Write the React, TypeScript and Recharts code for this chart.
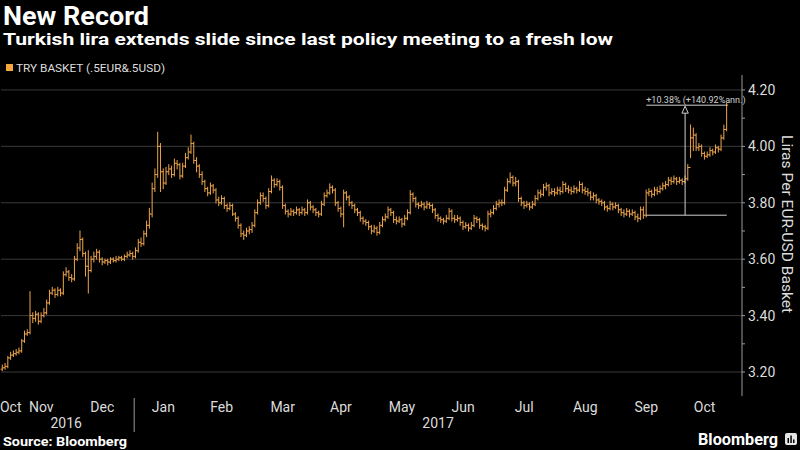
import React from 'react';
import {
  ComposedChart,
  Bar,
  XAxis,
  YAxis,
  CartesianGrid,
  ReferenceLine,
  ReferenceDot,
} from 'recharts';

// [close, high, low] per trading day; open = previous close
type HLC = [number, number, number];

const oct16: HLC[] = [
  [3.215, 3.225, 3.205], [3.22, 3.23, 3.21], [3.25, 3.255, 3.215], [3.26, 3.27, 3.245],
];
const nov16: HLC[] = [
  [3.265, 3.275, 3.255], [3.27, 3.28, 3.26], [3.275, 3.285, 3.265], [3.31, 3.315, 3.27],
  [3.335, 3.345, 3.305], [3.34, 3.35, 3.33], [3.40, 3.485, 3.335], [3.39, 3.41, 3.375],
  [3.405, 3.415, 3.38], [3.38, 3.41, 3.37], [3.40, 3.41, 3.375], [3.41, 3.425, 3.395],
  [3.445, 3.455, 3.405], [3.48, 3.49, 3.44], [3.49, 3.50, 3.475], [3.475, 3.495, 3.465],
  [3.49, 3.50, 3.47], [3.48, 3.495, 3.47], [3.545, 3.555, 3.475], [3.555, 3.57, 3.54],
  [3.535, 3.56, 3.525], [3.53, 3.545, 3.52],
];
const dec16: HLC[] = [
  [3.60, 3.61, 3.525], [3.64, 3.655, 3.595], [3.67, 3.70, 3.63], [3.62, 3.675, 3.61],
  [3.575, 3.625, 3.54], [3.56, 3.63, 3.48], [3.60, 3.61, 3.555], [3.61, 3.625, 3.59],
  [3.625, 3.635, 3.60], [3.60, 3.63, 3.59], [3.59, 3.605, 3.58], [3.595, 3.60, 3.585],
  [3.59, 3.60, 3.58], [3.60, 3.605, 3.585], [3.595, 3.605, 3.59], [3.60, 3.61, 3.59],
  [3.605, 3.61, 3.595], [3.60, 3.61, 3.595], [3.61, 3.615, 3.595], [3.615, 3.625, 3.605],
  [3.62, 3.63, 3.61], [3.61, 3.625, 3.60],
];
const jan17: HLC[] = [
  [3.63, 3.64, 3.605], [3.66, 3.67, 3.625], [3.655, 3.675, 3.645], [3.69, 3.70, 3.65],
  [3.72, 3.735, 3.68], [3.76, 3.78, 3.71], [3.85, 3.87, 3.75], [3.90, 3.92, 3.84],
  [4.00, 4.05, 3.89], [3.91, 4.01, 3.84], [3.87, 3.92, 3.85], [3.91, 3.925, 3.865],
  [3.92, 3.935, 3.90], [3.90, 3.93, 3.89], [3.94, 3.955, 3.895], [3.935, 3.95, 3.92],
  [3.895, 3.94, 3.885], [3.93, 3.94, 3.89], [3.96, 3.975, 3.925], [3.98, 3.995, 3.955],
  [4.01, 4.04, 3.975], [3.95, 4.015, 3.94],
];
const feb17: HLC[] = [
  [3.93, 3.96, 3.91], [3.90, 3.935, 3.89], [3.875, 3.91, 3.865], [3.85, 3.88, 3.84],
  [3.835, 3.855, 3.825], [3.86, 3.87, 3.83], [3.845, 3.865, 3.835], [3.81, 3.85, 3.80],
  [3.80, 3.82, 3.79], [3.815, 3.825, 3.795], [3.79, 3.82, 3.78], [3.78, 3.795, 3.77],
  [3.79, 3.80, 3.775], [3.76, 3.795, 3.755], [3.745, 3.765, 3.735], [3.72, 3.75, 3.71],
  [3.69, 3.725, 3.68], [3.685, 3.70, 3.67], [3.70, 3.71, 3.68], [3.705, 3.715, 3.69],
];
const mar17: HLC[] = [
  [3.72, 3.73, 3.695], [3.765, 3.775, 3.715], [3.80, 3.81, 3.76], [3.825, 3.835, 3.795],
  [3.815, 3.835, 3.805], [3.79, 3.82, 3.78], [3.84, 3.85, 3.785], [3.88, 3.895, 3.835],
  [3.865, 3.885, 3.855], [3.875, 3.885, 3.86], [3.855, 3.88, 3.845], [3.79, 3.86, 3.78],
  [3.77, 3.795, 3.76], [3.76, 3.775, 3.75], [3.77, 3.78, 3.755], [3.765, 3.775, 3.755],
  [3.775, 3.785, 3.76], [3.765, 3.78, 3.755], [3.775, 3.785, 3.76], [3.765, 3.78, 3.755],
  [3.80, 3.81, 3.76], [3.785, 3.805, 3.775], [3.775, 3.79, 3.765],
];
const apr17: HLC[] = [
  [3.765, 3.78, 3.755], [3.76, 3.77, 3.75], [3.795, 3.805, 3.755], [3.825, 3.835, 3.79],
  [3.835, 3.845, 3.82], [3.855, 3.867, 3.83], [3.845, 3.86, 3.835], [3.80, 3.85, 3.79],
  [3.78, 3.805, 3.77], [3.76, 3.785, 3.75], [3.835, 3.845, 3.715], [3.82, 3.84, 3.81],
  [3.80, 3.825, 3.79], [3.79, 3.805, 3.78], [3.775, 3.795, 3.765], [3.765, 3.78, 3.755],
  [3.745, 3.77, 3.735], [3.735, 3.75, 3.725], [3.73, 3.74, 3.72], [3.715, 3.735, 3.705],
];
const may17: HLC[] = [
  [3.70, 3.72, 3.69], [3.71, 3.72, 3.695], [3.695, 3.715, 3.685], [3.72, 3.73, 3.69],
  [3.74, 3.75, 3.715], [3.75, 3.76, 3.735], [3.775, 3.785, 3.745], [3.765, 3.78, 3.755],
  [3.74, 3.77, 3.73], [3.735, 3.75, 3.725], [3.74, 3.75, 3.73], [3.725, 3.745, 3.715],
  [3.745, 3.755, 3.72], [3.765, 3.775, 3.74], [3.83, 3.843, 3.76], [3.815, 3.835, 3.805],
  [3.795, 3.82, 3.785], [3.79, 3.80, 3.78], [3.795, 3.805, 3.785], [3.785, 3.80, 3.775],
  [3.795, 3.805, 3.78], [3.79, 3.80, 3.78], [3.775, 3.795, 3.765],
];
const jun17: HLC[] = [
  [3.755, 3.78, 3.745], [3.745, 3.76, 3.735], [3.74, 3.75, 3.73], [3.735, 3.745, 3.725],
  [3.745, 3.755, 3.73], [3.77, 3.78, 3.74], [3.745, 3.775, 3.735], [3.74, 3.755, 3.73],
  [3.745, 3.755, 3.735], [3.73, 3.75, 3.72], [3.715, 3.735, 3.705], [3.72, 3.73, 3.71],
  [3.71, 3.725, 3.70], [3.72, 3.73, 3.705], [3.745, 3.755, 3.715], [3.74, 3.75, 3.73],
  [3.72, 3.745, 3.71], [3.715, 3.725, 3.705], [3.71, 3.72, 3.70], [3.76, 3.77, 3.705],
  [3.765, 3.775, 3.75], [3.78, 3.79, 3.76],
];
const jul17: HLC[] = [
  [3.795, 3.805, 3.775], [3.80, 3.81, 3.785], [3.80, 3.81, 3.79], [3.845, 3.855, 3.795],
  [3.875, 3.885, 3.84], [3.89, 3.906, 3.87], [3.87, 3.895, 3.86], [3.875, 3.89, 3.86],
  [3.815, 3.88, 3.805], [3.80, 3.82, 3.79], [3.79, 3.805, 3.78], [3.795, 3.805, 3.785],
  [3.785, 3.80, 3.775], [3.795, 3.805, 3.78], [3.815, 3.825, 3.79], [3.835, 3.845, 3.81],
  [3.83, 3.845, 3.82], [3.855, 3.865, 3.825], [3.86, 3.87, 3.845], [3.835, 3.865, 3.825],
  [3.84, 3.85, 3.83],
];
const aug17: HLC[] = [
  [3.835, 3.85, 3.825], [3.845, 3.855, 3.83], [3.84, 3.855, 3.83], [3.865, 3.875, 3.835],
  [3.85, 3.87, 3.84], [3.845, 3.86, 3.835], [3.84, 3.855, 3.83], [3.85, 3.86, 3.835],
  [3.845, 3.855, 3.835], [3.865, 3.875, 3.84], [3.845, 3.87, 3.835], [3.84, 3.855, 3.83],
  [3.835, 3.85, 3.825], [3.82, 3.84, 3.81], [3.825, 3.835, 3.81], [3.81, 3.83, 3.80],
  [3.805, 3.815, 3.795], [3.80, 3.81, 3.79], [3.785, 3.805, 3.775], [3.78, 3.79, 3.77],
  [3.795, 3.805, 3.775], [3.785, 3.80, 3.775], [3.79, 3.80, 3.78],
];
const sep17: HLC[] = [
  [3.775, 3.795, 3.765], [3.765, 3.78, 3.755], [3.76, 3.775, 3.75], [3.77, 3.78, 3.755],
  [3.76, 3.775, 3.75], [3.765, 3.775, 3.755], [3.75, 3.77, 3.74], [3.745, 3.76, 3.733],
  [3.775, 3.785, 3.74], [3.756, 3.785, 3.745], [3.835, 3.845, 3.75], [3.84, 3.85, 3.825],
  [3.83, 3.845, 3.82], [3.845, 3.855, 3.825], [3.84, 3.855, 3.83], [3.85, 3.86, 3.835],
  [3.86, 3.87, 3.845], [3.865, 3.875, 3.85], [3.88, 3.89, 3.86], [3.875, 3.89, 3.865],
  [3.885, 3.895, 3.87],
];
const oct17: HLC[] = [
  [3.875, 3.89, 3.865], [3.88, 3.89, 3.87], [3.875, 3.885, 3.865], [3.885, 3.895, 3.87],
  [3.925, 3.935, 3.88], [4.03, 4.076, 3.96], [4.04, 4.065, 3.985], [3.995, 4.045, 3.985],
  [4.00, 4.01, 3.985], [3.975, 4.005, 3.965], [3.965, 3.98, 3.955], [3.97, 3.98, 3.96],
  [3.985, 3.995, 3.965], [3.98, 3.99, 3.97], [3.995, 4.005, 3.975], [3.99, 4.00, 3.98],
  [4.03, 4.04, 3.985], [4.06, 4.075, 4.025], [4.146, 4.152, 4.055],
];

const monthBars: HLC[][] = [
  oct16, nov16, dec16, jan17, feb17, mar17, apr17, may17, jun17, jul17, aug17, sep17, oct17, [],
];
const monthLabels = ['Oct', 'Nov', 'Dec', 'Jan', 'Feb', 'Mar', 'Apr', 'May', 'Jun', 'Jul', 'Aug', 'Sep', 'Oct', 'Nov'];
// trading-day slots shown on the axis for each month
const monthSlots = [4, 22, 22, 22, 20, 23, 20, 23, 22, 21, 23, 21, 22, 2];
const firstOpen = 3.21;

const yTicks = [3.2, 3.3, 3.4, 3.5, 3.6, 3.7, 3.8, 3.9, 4.0, 4.1, 4.2];
const yGridValues = [3.2, 3.4, 3.6, 3.8, 4.0, 4.2];
const yDomain: [number, number] = [3.115, 4.253];

const baseLevel = 3.756;
const lastLevel = 4.146;
const annotationText = '+10.38% (+140.92%ann.)';

const BAR = '#eea54a';
const GRID = '#3a3a3a';
const AXIS = '#9a9a9a';
const TEXT = '#dcdcdc';
const FONT = 'Roboto, "Open Sans", sans-serif';

type Row = {
  key: string;
  range: [number, number] | null;
  o?: number;
  h?: number;
  l?: number;
  c?: number;
};

const rows: Row[] = [];
{
  let prev = firstOpen;
  monthSlots.forEach((n, m) => {
    for (let d = 0; d < n; d++) {
      const key = `${m}-${d}`;
      const bar = monthBars[m][d];
      if (bar) {
        const [c, h, l] = bar;
        rows.push({ key, range: [l, h], o: prev, h, l, c });
        prev = c;
      } else {
        rows.push({ key, range: null });
      }
    }
  });
}

const boundaryKeys = monthSlots.map((_, m) => `${m}-0`).slice(1);
const monthLabelKeys: Record<string, string> = {};
monthLabels.forEach((lab, m) => {
  if (m === 13) return;
  const slot = m === 0 ? 3 : Math.floor((monthSlots[m] - 1) / 2);
  monthLabelKeys[`${m}-${slot}`] = lab;
});
const yearKeys: Record<string, string> = { '1-19': '2016', '8-1': '2017', '3-0': '|' };

const OhlcShape = (props: any) => {
  const { x, y, width, height, payload } = props;
  if (!payload || payload.c == null) return null;
  const top = Math.min(y, y + height);
  const bottom = Math.max(y, y + height);
  const span = payload.h - payload.l;
  const yOf = (v: number) => (span > 0 ? top + ((payload.h - v) / span) * (bottom - top) : top);
  const cx = x + width / 2;
  const yo = yOf(payload.o);
  const yc = yOf(payload.c);
  return (
    <g stroke={BAR} strokeWidth={1}>
      <line x1={cx} x2={cx} y1={top - 0.5} y2={bottom + 0.5} />
      <line x1={cx - 1.6} x2={cx} y1={yo} y2={yo} />
      <line x1={cx} x2={cx + 1.6} y1={yc} y2={yc} />
    </g>
  );
};

const YTick = (props: any) => {
  const { x, y, payload } = props;
  const v = payload.value as number;
  if (Math.round(v * 10) % 2 !== 0) return null;
  return (
    <text x={x} y={y} dy={5} fill={TEXT} fontSize={14} fontFamily={FONT} textAnchor="start">
      {v.toFixed(2)}
    </text>
  );
};

const MonthTick = (props: any) => {
  const { x, y, payload } = props;
  const lab = monthLabelKeys[payload.value];
  if (!lab) return null;
  return (
    <text x={x} y={y + 16} fill={TEXT} fontSize={14} fontFamily={FONT} textAnchor="middle">
      {lab}
    </text>
  );
};

const YearTick = (props: any) => {
  const { x, y, payload } = props;
  const lab = yearKeys[payload.value];
  if (!lab) return null;
  if (lab === '|') {
    return <line x1={x - 1.4} x2={x - 1.4} y1={y - 20} y2={y + 14} stroke={AXIS} strokeWidth={1} />;
  }
  return (
    <text x={x} y={y + 10} fill={TEXT} fontSize={14} fontFamily={FONT} textAnchor="middle">
      {lab}
    </text>
  );
};

const ArrowHead = (props: any) => {
  const { cx, cy } = props;
  return (
    <polygon
      points={`${cx},${cy + 1} ${cx - 3.2},${cy + 8} ${cx + 3.2},${cy + 8}`}
      fill="#000"
      stroke="#d0d0d0"
      strokeWidth={1}
    />
  );
};

const AnnoText = (props: any) => {
  const { cx, cy } = props;
  return (
    <text x={cx} y={cy - 2} fill="#d0d0d0" fontSize={9} fontFamily={FONT} textAnchor="start">
      {annotationText}
    </text>
  );
};

export default function App() {
  return (
    <div style={{ position: 'absolute', left: 0, top: 0, width: 800, height: 450, background: '#000', overflow: 'hidden' }}>
      <ComposedChart
        width={800}
        height={450}
        data={rows}
        margin={{ top: 75, right: 0, bottom: 12, left: 1 }}
      >
        <CartesianGrid
          xAxisId="b"
          stroke={GRID}
          strokeWidth={1}
          horizontalValues={yGridValues}
          verticalValues={boundaryKeys}
        />
        <XAxis
          xAxisId="b"
          dataKey="key"
          type="category"
          ticks={boundaryKeys}
          interval={0}
          tick={false}
          tickSize={-4}
          tickLine={{ stroke: AXIS }}
          axisLine={{ stroke: AXIS }}
          height={0}
        />
        <XAxis
          xAxisId="m"
          dataKey="key"
          type="category"
          ticks={Object.keys(monthLabelKeys)}
          interval={0}
          tick={<MonthTick />}
          tickLine={false}
          axisLine={false}
          tickSize={0}
          tickMargin={0}
          height={22}
        />
        <XAxis
          xAxisId="y"
          dataKey="key"
          type="category"
          ticks={Object.keys(yearKeys)}
          interval={0}
          tick={<YearTick />}
          tickLine={false}
          axisLine={false}
          tickSize={0}
          tickMargin={0}
          height={20}
        />
        <YAxis
          orientation="right"
          type="number"
          domain={yDomain}
          allowDataOverflow
          ticks={yTicks}
          interval={0}
          tick={<YTick />}
          tickSize={3}
          tickMargin={3}
          tickLine={{ stroke: AXIS }}
          axisLine={{ stroke: AXIS }}
          width={58}
        />
        <Bar xAxisId="b" dataKey="range" shape={<OhlcShape />} isAnimationActive={false} />
        <ReferenceLine
          xAxisId="b"
          segment={[{ x: '11-10', y: baseLevel }, { x: '12-18', y: baseLevel }]}
          stroke="#d0d0d0"
          strokeWidth={1}
        />
        <ReferenceLine
          xAxisId="b"
          segment={[{ x: '11-10', y: lastLevel }, { x: '12-18', y: lastLevel }]}
          stroke="#d0d0d0"
          strokeWidth={1}
        />
        <ReferenceLine
          xAxisId="b"
          segment={[{ x: '12-3', y: baseLevel }, { x: '12-3', y: 4.125 }]}
          stroke="#d0d0d0"
          strokeWidth={1}
        />
        <ReferenceDot xAxisId="b" x="12-3" y={lastLevel} r={0} shape={<ArrowHead />} />
        <ReferenceDot xAxisId="b" x="11-10" y={lastLevel} r={0} shape={<AnnoText />} />
      </ComposedChart>
      <svg
        width={800}
        height={450}
        style={{ position: 'absolute', left: 0, top: 0, pointerEvents: 'none' }}
      >
        <text x={3} y={25} fill="#fff" fontSize={25} fontWeight={700} fontFamily={FONT} textLength={146} lengthAdjust="spacingAndGlyphs">
          New Record
        </text>
        <text x={3} y={45} fill="#fff" fontSize={17} fontWeight={700} fontFamily={FONT} textLength={610} lengthAdjust="spacingAndGlyphs">
          Turkish lira extends slide since last policy meeting to a fresh low
        </text>
        <rect x={6} y={64} width={7} height={7} fill="#f5a73e" />
        <text x={16} y={72} fill={TEXT} fontSize={11} fontFamily={FONT} textLength={149} lengthAdjust="spacingAndGlyphs">
          TRY BASKET (.5EUR&amp;.5USD)
        </text>
        <text
          transform="translate(782, 135) rotate(90)"
          fill={TEXT}
          fontSize={15}
          fontFamily={FONT}
          textLength={178}
          lengthAdjust="spacingAndGlyphs"
        >
          Liras Per EUR-USD Basket
        </text>
        <text x={3} y={446} fill="#fff" fontSize={12} fontWeight={700} fontFamily={FONT} textLength={124} lengthAdjust="spacingAndGlyphs">
          Source: Bloomberg
        </text>
        <text x={698} y={445} fill="#fff" fontSize={17} fontWeight={700} fontFamily={FONT} textLength={80} lengthAdjust="spacingAndGlyphs">
          Bloomberg
        </text>
        <rect x={785} y={433} width={12} height={12} rx={2} fill="#e6e6e6" />
        <rect x={787.5} y={438} width={1.5} height={5} fill="#000" />
        <rect x={790.3} y={435.5} width={1.5} height={7.5} fill="#000" />
        <rect x={793} y={439.5} width={1.5} height={3.5} fill="#000" />
      </svg>
    </div>
  );
}
